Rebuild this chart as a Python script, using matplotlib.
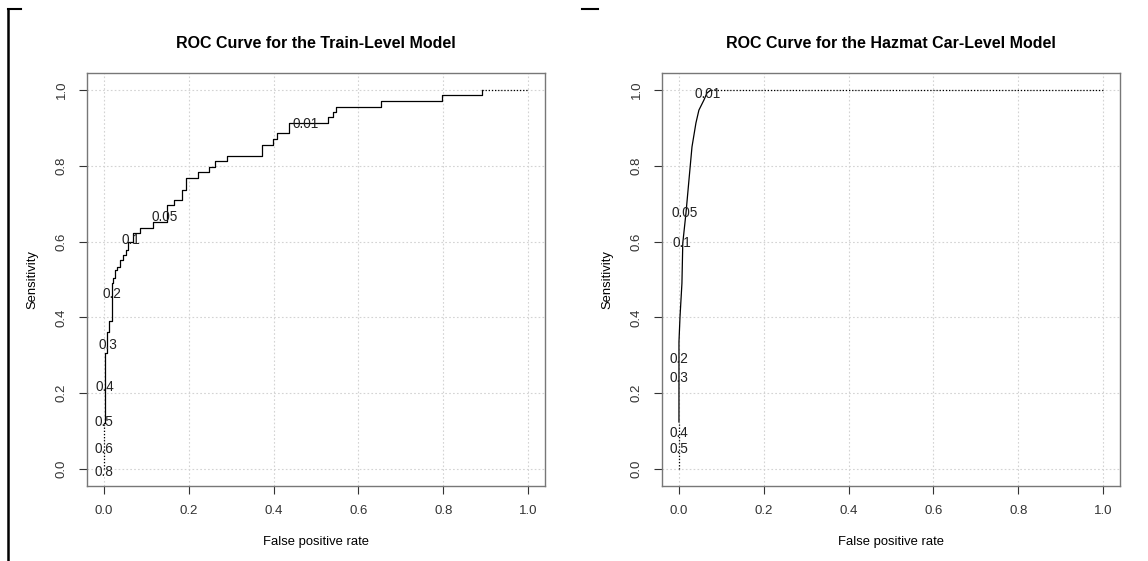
import matplotlib
matplotlib.use("Agg")
import matplotlib.pyplot as plt
from matplotlib.lines import Line2D

plt.rcParams['font.family'] = ['Liberation Sans', 'DejaVu Sans']

# train-level model: corners of the ROC staircase (fpr where step rises, tpr after rise)
train_fpr = [0.0, 0.0, 0.0024, 0.007, 0.012, 0.019, 0.021, 0.026, 0.031, 0.038, 0.045,
             0.052, 0.057, 0.068, 0.085, 0.116, 0.148, 0.165, 0.184, 0.193, 0.222,
             0.248, 0.262, 0.29, 0.373, 0.399, 0.408, 0.436, 0.528, 0.54, 0.547,
             0.653, 0.797, 0.892, 1.0]
train_tpr = [0.0, 0.12, 0.306, 0.361, 0.39, 0.49, 0.504, 0.525, 0.533, 0.551, 0.565,
             0.578, 0.599, 0.623, 0.636, 0.652, 0.697, 0.71, 0.736, 0.768, 0.784,
             0.797, 0.813, 0.826, 0.855, 0.871, 0.887, 0.913, 0.929, 0.942, 0.955,
             0.971, 0.987, 1.0, 1.0]
train_cut = ['0.01', '0.05', '0.1', '0.2', '0.3', '0.4', '0.5', '0.6', '0.8']
train_cut_x = [0.476, 0.144, 0.064, 0.019, 0.009, 0.002, 0.0, 0.0, 0.0]
train_cut_y = [0.91, 0.665, 0.604, 0.462, 0.327, 0.216, 0.124, 0.053, -0.008]

# hazmat car-level model
car_fpr = [0.0, 0.0, 0.0, 0.0024, 0.007, 0.009, 0.0165, 0.0236, 0.0307, 0.040,
           0.047, 0.059, 0.066, 0.075, 1.0]
car_tpr = [0.0, 0.124, 0.335, 0.40, 0.49, 0.596, 0.675, 0.763, 0.85, 0.913,
           0.947, 0.974, 0.992, 1.0, 1.0]
car_cut = ['0.01', '0.05', '0.1', '0.2', '0.3', '0.4', '0.5']
car_cut_x = [0.068, 0.014, 0.007, 0.0, 0.0, 0.0, 0.0]
car_cut_y = [0.99, 0.675, 0.596, 0.29, 0.24, 0.095, 0.053]

ticks = [0.0, 0.2, 0.4, 0.6, 0.8, 1.0]


def roc_panel(ax, fpr, tpr, cuts, cx, cy, title, steps):
    ds = 'steps-post' if steps else 'default'
    # dotted bits at both ends, solid in between
    ax.plot(fpr[:2], tpr[:2], color='black', lw=0.9, ls=(0, (1, 1.5)))
    ax.plot(fpr[1:-1], tpr[1:-1], color='black', lw=0.9, drawstyle=ds)
    ax.plot(fpr[-2:], tpr[-2:], color='black', lw=0.9, ls=(0, (1, 1.5)))
    for lab, x, y in zip(cuts, cx, cy):
        ax.text(x, y, lab, ha='center', va='center', fontsize=9.8, color='#222222')
    ax.set_xlim(-0.04, 1.04)
    ax.set_ylim(-0.045, 1.045)
    ax.set_xticks(ticks)
    ax.set_yticks(ticks)
    ax.set_xticklabels(['%.1f' % t for t in ticks])
    ax.set_yticklabels(['%.1f' % t for t in ticks], rotation=90, va='center')
    ax.grid(True, color='#d3d3d3', ls=(0, (1.5, 2)), lw=0.8)
    ax.tick_params(direction='out', length=6, width=0.8, labelsize=9.5,
                   colors='#333333', pad=8)
    for s in ax.spines.values():
        s.set_color('#777777')
        s.set_linewidth(1)
    ax.set_title(title, fontsize=11.5, fontweight='bold', pad=18)
    ax.set_xlabel('False positive rate', fontsize=9.4, labelpad=13)
    ax.set_ylabel('Sensitivity', fontsize=9.4, labelpad=12)


fig = plt.figure(figsize=(11.48, 5.61), dpi=100)
ax1 = fig.add_axes([87 / 1148, 75 / 561, 458 / 1148, 413 / 561])
ax2 = fig.add_axes([662 / 1148, 75 / 561, 458 / 1148, 413 / 561])

roc_panel(ax1, train_fpr, train_tpr, train_cut, train_cut_x, train_cut_y,
          'ROC Curve for the Train-Level Model', True)
roc_panel(ax2, car_fpr, car_tpr, car_cut, car_cut_x, car_cut_y,
          'ROC Curve for the Hazmat Car-Level Model', False)

# screenshot frame remnants
fig.add_artist(Line2D([8 / 1148, 8 / 1148], [0, 1 - 9 / 561], color='black', lw=1.8))
fig.add_artist(Line2D([8 / 1148, 21 / 1148], [1 - 9 / 561, 1 - 9 / 561], color='black', lw=1.5))
fig.add_artist(Line2D([582 / 1148, 598 / 1148], [1 - 9 / 561, 1 - 9 / 561], color='black', lw=1.5))

fig.savefig('out.png', dpi=100)
